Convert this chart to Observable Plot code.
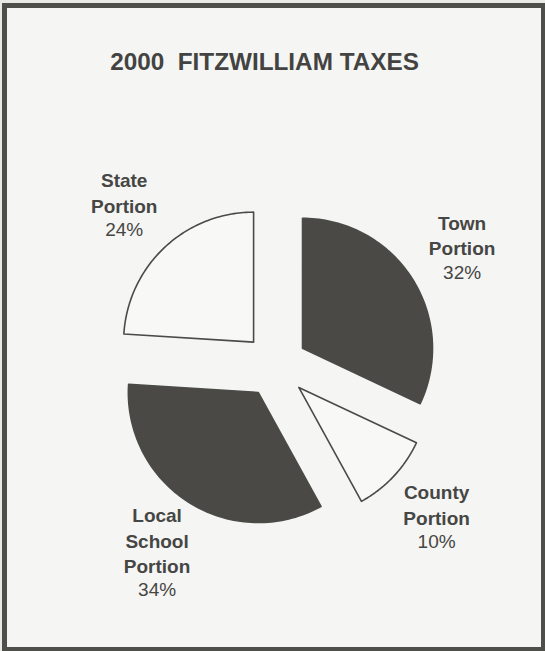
<!DOCTYPE html>
<html>
<head>
<meta charset="utf-8">
<script src="https://cdn.jsdelivr.net/npm/d3@7"></script>
<script src="https://cdn.jsdelivr.net/npm/@observablehq/plot@0.6"></script>
<style>
  html, body { margin: 0; padding: 0; background: #e9e9e6; }
  #page { position: relative; width: 545px; height: 651px; overflow: hidden; }
  #frame {
    position: absolute; left: 2px; top: 3px; right: 0; bottom: 0;
    border-style: solid; border-color: #4e4e4b;
    border-width: 5px 4px 4px 5px; background: #f5f5f3; box-sizing: border-box;
  }
  #chart { position: absolute; left: 0; top: 0; width: 545px; height: 651px; }
  #title {
    height: 100px; box-sizing: border-box; padding-top: 48px; line-height: 28px;
    text-align: center; font-family: "Liberation Sans", Arial, sans-serif;
    font-weight: bold; font-size: 24.3px; color: #434341; white-space: pre;
    padding-right: 16px;
  }
  svg { display: block; }
</style>
</head>
<body>
<div id="page">
  <div id="frame"></div>
  <div id="chart">
    <div id="title">2000  FITZWILLIAM TAXES</div>
  </div>
</div>
<script>
// ---- data ----
const categories = ["Town Portion", "County Portion", "Local School Portion", "State Portion"];
const shares = [32, 10, 34, 24];
const nameLines = [["Town", "Portion"], ["County", "Portion"], ["Local", "School", "Portion"], ["State", "Portion"]];

// ---- layout / style ----
const W = 545, H = 551;
const cx = 275, cy = 265, R = 130, explode = 32, labelR = 221;
const fontSize = 19, lineH = 25.5;
const dark = "#4b4945", light = "#f8f8f6", ink = "#464644";

const rows = categories.map((c, i) => ({category: c, share: shares[i], lines: nameLines[i]}));
const arcs = d3.pie().sort(null).value(d => d.share).startAngle(0).endAngle(2 * Math.PI)(rows);

const N = 80;
const points = [];
const labels = [];
for (const a of arcs) {
  const mid = (a.startAngle + a.endAngle) / 2;
  const ax = cx + explode * Math.sin(mid);
  const ay = cy - explode * Math.cos(mid);
  points.push({category: a.data.category, x: ax, y: ay});
  for (let i = 0; i <= N; i++) {
    const t = a.startAngle + (a.endAngle - a.startAngle) * i / N;
    points.push({category: a.data.category, x: ax + R * Math.sin(t), y: ay - R * Math.cos(t)});
  }
  const lx = cx + labelR * Math.sin(mid);
  const ly = cy - labelR * Math.cos(mid);
  const k = a.data.lines.length, n = k + 1;
  const top = ly - (n - 1) / 2 * lineH;
  labels.push({
    x: lx,
    nameY: top + (k - 1) / 2 * lineH,
    pctY: top + k * lineH,
    name: a.data.lines.join("\n"),
    pct: a.data.share + "%"
  });
}

const chart = Plot.plot({
  width: W, height: H, margin: 0,
  x: {domain: [0, W], range: [0, W], axis: null},
  y: {domain: [0, H], range: [0, H], axis: null},
  color: {domain: categories, range: [dark, light, dark, light]},
  style: {background: "transparent", fontFamily: "'Liberation Sans', Arial, sans-serif", overflow: "visible"},
  marks: [
    Plot.line(points, {x: "x", y: "y", z: "category", fill: "category", stroke: "#4a4a47", strokeWidth: 1.6, curve: "linear-closed"}),
    Plot.text(labels, {x: "x", y: "nameY", text: "name", fontWeight: "bold", fontSize, lineHeight: lineH / fontSize, fill: ink}),
    Plot.text(labels, {x: "x", y: "pctY", text: "pct", fontSize, fill: ink})
  ]
});
document.getElementById("chart").appendChild(chart);
</script>
</body>
</html>
